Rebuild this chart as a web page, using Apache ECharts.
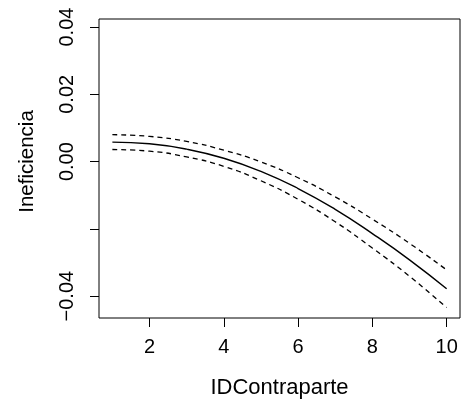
<!DOCTYPE html>
<html>
<head>
<meta charset="utf-8">
<script src="https://cdn.jsdelivr.net/npm/echarts@6/dist/echarts.min.js"></script>
<style>
  html, body { margin: 0; padding: 0; background: #fff; }
  #chart { width: 461px; height: 404px; }
</style>
</head>
<body>
<div id="chart"></div>
<script>
// values
var idContraparte = [1, 2, 3, 4, 5, 6, 7, 8, 9, 10];
var fit   = [0.0058, 0.0053, 0.0037, 0.0010, -0.0029, -0.0080, -0.0142, -0.0214, -0.0292, -0.0378];
var upper = [0.0080, 0.0075, 0.0060, 0.0034, -0.0001, -0.0048, -0.0105, -0.0171, -0.0243, -0.0322];
var lower = [0.0036, 0.0031, 0.0014, -0.0014, -0.0057, -0.0112, -0.0179, -0.0257, -0.0341, -0.0434];
var xTicks = [2, 4, 6, 8, 10];
var yTicks = [-0.04, -0.02, 0, 0.02, 0.04];
var yLabels = [-0.04, 0, 0.02, 0.04];

function pairs(ys) {
  return idContraparte.map(function (x, i) { return [x, ys[i]]; });
}

var font = '"Liberation Sans", Arial, sans-serif';

var myChart = echarts.init(document.getElementById('chart'));

var option = {
  animation: false,
  backgroundColor: '#fff',
  grid: {
    left: 99, right: 1, top: 19, bottom: 85,
    show: true, borderColor: '#000', borderWidth: 1, backgroundColor: 'transparent'
  },
  // y axis title, placed as in the reference
  graphic: [{
    type: 'text',
    x: 27.5, y: 161.5,
    rotation: Math.PI / 2,
    style: {
      text: 'Ineficiencia', fill: '#000', fontSize: 20.5, fontFamily: font,
      textAlign: 'center', textVerticalAlign: 'middle'
    }
  }],
  xAxis: {
    type: 'value',
    min: 0.64,
    max: 10.36,
    name: 'IDContraparte',
    nameLocation: 'middle',
    nameGap: 59,
    nameTextStyle: { color: '#000', fontSize: 22, fontFamily: font },
    axisLine: { show: false, onZero: false },
    splitLine: { show: false },
    axisTick: { show: true, length: 9, lineStyle: { color: '#000' }, customValues: xTicks },
    axisLabel: { color: '#000', fontSize: 20, fontFamily: font, margin: 19, customValues: xTicks }
  },
  yAxis: {
    type: 'value',
    min: -0.0465,
    max: 0.0424,
    axisLine: { show: false, onZero: false },
    splitLine: { show: false },
    axisTick: { show: true, length: 9, lineStyle: { color: '#000' }, customValues: yTicks },
    axisLabel: {
      color: '#000', fontSize: 20, fontFamily: font, margin: 22, rotate: 90,
      customValues: yLabels,
      formatter: function (v) {
        var s = Math.abs(v).toFixed(2);
        return v < -1e-9 ? '\u2212' + s : s;
      }
    }
  },
  series: [
    {
      name: 'fit', type: 'line', smooth: true, symbol: 'none',
      lineStyle: { color: '#000', width: 1.4 },
      data: pairs(fit)
    },
    {
      name: 'upper', type: 'line', smooth: true, symbol: 'none',
      lineStyle: { color: '#000', width: 1.3, type: [5, 4] },
      data: pairs(upper)
    },
    {
      name: 'lower', type: 'line', smooth: true, symbol: 'none',
      lineStyle: { color: '#000', width: 1.3, type: [5, 4] },
      data: pairs(lower)
    }
  ]
};

myChart.setOption(option);
</script>
</body>
</html>
